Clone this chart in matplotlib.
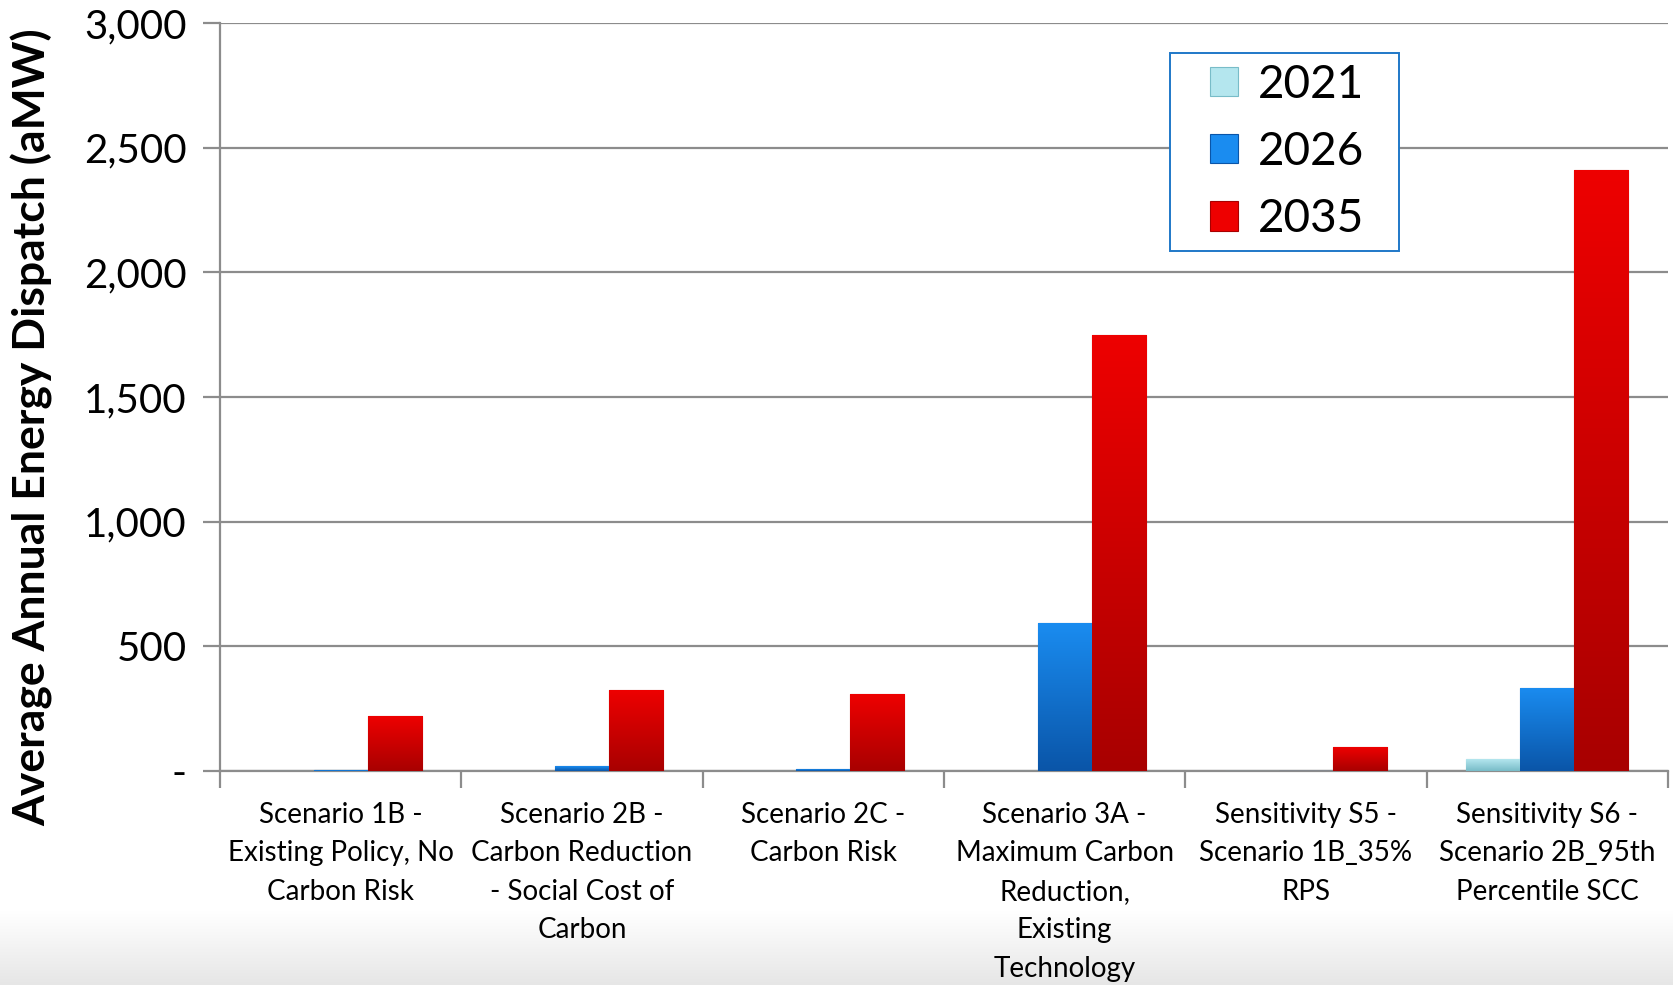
import matplotlib.pyplot as plt
import matplotlib.colors as mcolors
from matplotlib.patches import Rectangle
import numpy as np

plt.rcParams['font.family'] = ['Lato', 'DejaVu Sans']

scenarios = ["Scenario 1B -\nExisting Policy, No\nCarbon Risk",
             "Scenario 2B -\nCarbon Reduction\n- Social Cost of\nCarbon",
             "Scenario 2C -\nCarbon Risk",
             "Scenario 3A -\nMaximum Carbon\nReduction,\nExisting\nTechnology",
             "Sensitivity S5 -\nScenario 1B_35%\nRPS",
             "Sensitivity S6 -\nScenario 2B_95th\nPercentile SCC"]
years = ["2021", "2026", "2035"]
v2021 = [1, 2, 1, 2, 1, 48]
v2026 = [4, 20, 8, 593, 2, 333]
v2035 = [220, 325, 307, 1748, 96, 2411]

# light / dark ends of each series gradient
shades = {"2021": ("#b4e6ee", "#78bcc8"),
          "2026": ("#1a8cf0", "#0a55a8"),
          "2035": ("#ee0000", "#a80000")}

W, H = 1673, 985
fig = plt.figure(figsize=(W / 100, H / 100), dpi=100)

# grey band at the bottom of the slide
bg = fig.add_axes([0, 0, 1, 1], zorder=-5)
grad = np.linspace(0, 1, 200)[:, None]
cm_bg = mcolors.LinearSegmentedColormap.from_list("bg", ["#e6e6e6", "#ffffff"])
bg.imshow(grad, aspect='auto', cmap=cm_bg, extent=[0, 1, 0, 0.075], origin='lower')
bg.set_xlim(0, 1)
bg.set_ylim(0, 1)
bg.axis('off')

ax = fig.add_axes([220 / W, 1 - 771 / H, 1448 / W, 748 / H])
ax.patch.set_alpha(0)

x = np.arange(len(scenarios))
w = 0.224
for i, (yr, vals) in enumerate(zip(years, [v2021, v2026, v2035])):
    light, dark = shades[yr]
    cmap = mcolors.LinearSegmentedColormap.from_list(yr, [dark, light])
    bars = ax.bar(x + (i - 1) * w, vals, w, color=light, edgecolor=dark,
                  linewidth=0.8, label=yr, zorder=3)
    for b in bars:
        x0, y0 = b.get_x(), b.get_y()
        im = ax.imshow(grad, aspect='auto', cmap=cmap, origin='lower',
                       extent=[x0, x0 + b.get_width(), y0, y0 + b.get_height()],
                       zorder=3.5)
        im.set_clip_path(b)

ax.set_xlim(-0.5, len(scenarios) - 0.5)
ax.set_ylim(0, 3000)
ax.set_yticks(np.arange(0, 3001, 500))
ax.set_yticklabels(["-"] + [f"{t:,}" for t in range(500, 3001, 500)])
ax.yaxis.grid(True, color="#8c8c8c", linewidth=1.6, zorder=0)
ax.set_axisbelow(True)

ax.set_xticks(np.arange(len(scenarios) + 1) - 0.5)
ax.set_xticklabels([])
ax.set_xticks(x, minor=True)
ax.set_xticklabels(scenarios, minor=True, fontsize=20, linespacing=1.6, va='top')
ax.tick_params(axis='x', which='minor', length=0, pad=22)
ax.tick_params(axis='x', which='major', length=12, width=1.6, color="#8c8c8c", direction='out')
ax.tick_params(axis='y', length=12, width=1.6, color="#8c8c8c", labelsize=29, pad=12)

for s in ['top', 'right']:
    ax.spines[s].set_visible(False)
for s in ['left', 'bottom']:
    ax.spines[s].set_color("#8c8c8c")
    ax.spines[s].set_linewidth(1.6)

fig.text(32 / W, 1 - 427 / H, "Average Annual Energy Dispatch (aMW)", rotation=90,
         ha='center', va='center', fontsize=32, fontweight='bold')

# legend box: white frame with a blue border, entries centred inside it
box = [1170 / W, 1 - 251 / H, 229 / W, 198 / H]
ax.add_patch(Rectangle((box[0], box[1]), box[2], box[3], transform=fig.transFigure,
                       facecolor='white', edgecolor="#1f78c8", linewidth=1.4,
                       zorder=4, clip_on=False))
leg = ax.legend(loc='center', bbox_to_anchor=(box[0] + box[2] / 2 + 3 / W, box[1] + box[3] / 2),
                bbox_transform=fig.transFigure, fontsize=33, frameon=False,
                handlelength=0.6, handleheight=0.6, handletextpad=0.45,
                labelspacing=0.55, borderpad=0)
leg.set_zorder(5)

fig.savefig("out.png", dpi=100)
